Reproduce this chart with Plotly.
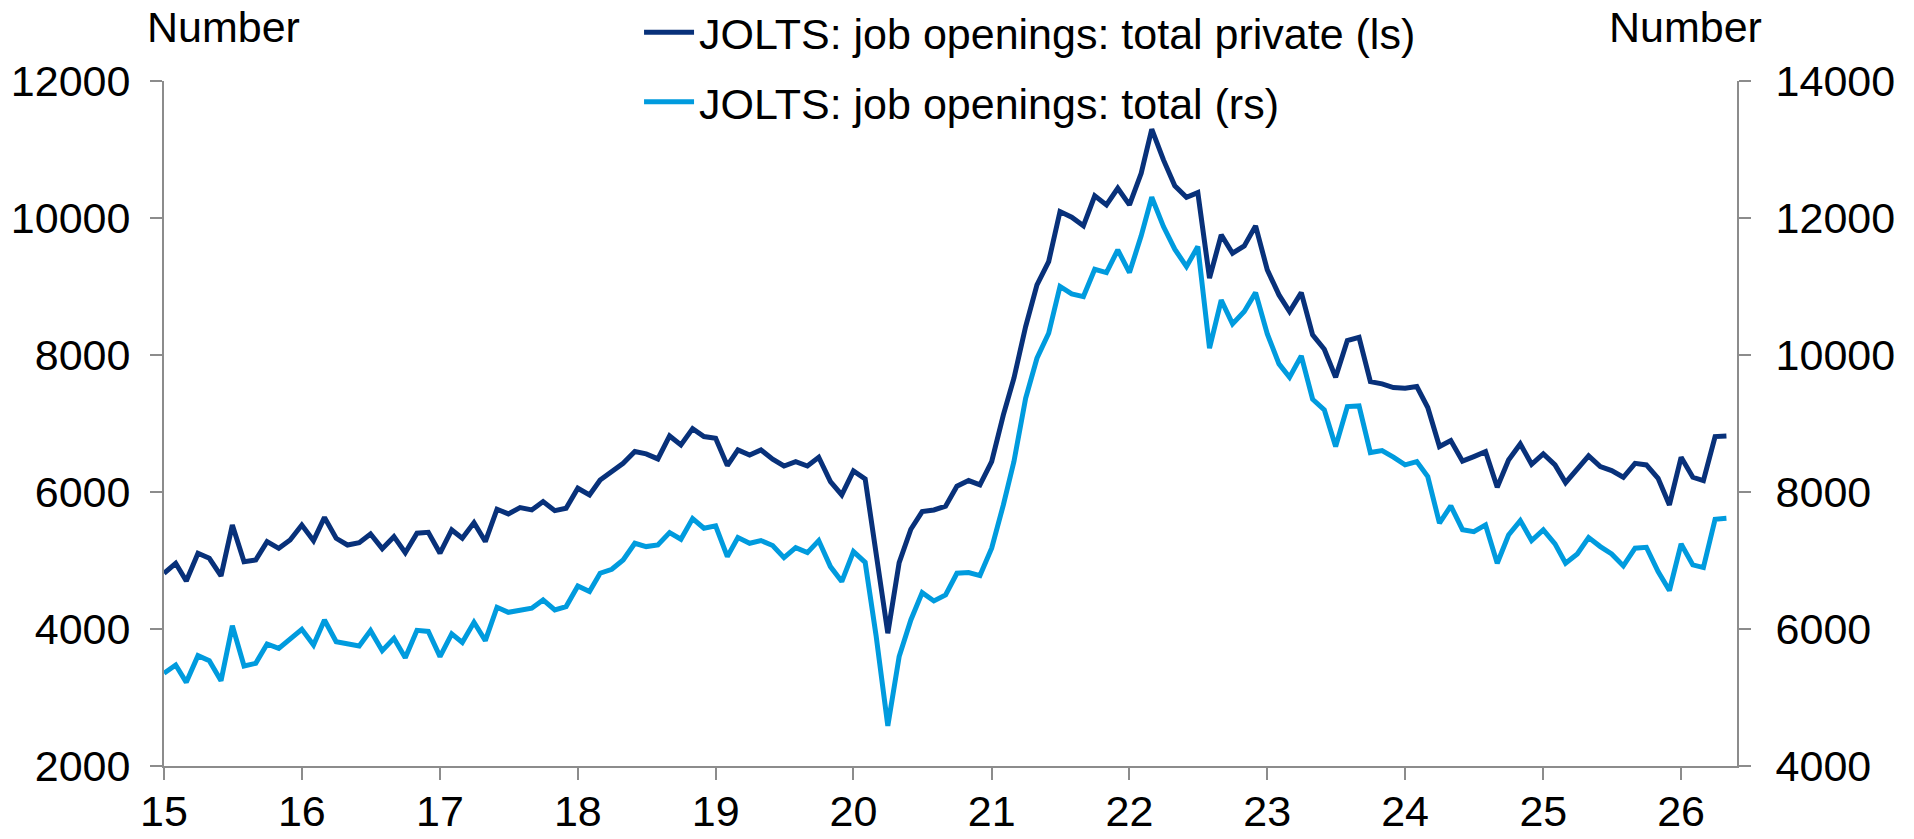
import pandas as pd
import plotly.graph_objects as go

start_month = "2015-01-01"

private_openings = [
    4813, 4959, 4701, 5105, 5032, 4774, 5518, 4983, 5007, 5275, 5178, 5299,
    5518, 5290, 5630, 5324, 5226, 5260, 5387, 5173, 5348, 5114, 5398, 5412,
    5106, 5446, 5325, 5553, 5276, 5748, 5680, 5772, 5738, 5860, 5728, 5763,
    6055, 5957, 6176, 6298, 6419, 6590, 6556, 6483, 6818, 6687, 6925, 6809,
    6784, 6385, 6614, 6541, 6614, 6478, 6380, 6444, 6380, 6507, 6152, 5957,
    6308, 6191, 5150, 3938, 4969, 5456, 5714, 5738, 5792, 6084, 6167, 6104,
    6444, 7126, 7661, 8415, 9023, 9364, 10094, 10011, 9885, 10323, 10191, 10434,
    10191, 10653, 11296, 10848, 10469, 10303, 10371, 9121, 9753, 9486, 9593, 9885,
    9242, 8877, 8634, 8911, 8293, 8084, 7675, 8211, 8259, 7612, 7578, 7525,
    7515, 7539, 7233, 6663, 6751, 6450, 6517, 6590, 6069, 6468, 6702, 6405,
    6556, 6395, 6137, 6322, 6527, 6371, 6312, 6215, 6419, 6395, 6201, 5811,
    6507, 6215, 6166, 6809, 6818,
]

total_openings = [
    5353, 5474, 5221, 5611, 5538, 5246, 6049, 5460, 5499, 5781, 5718, 5864,
    5995, 5766, 6131, 5815, 5781, 5752, 5976, 5684, 5864, 5581, 5980, 5965,
    5597, 5928, 5802, 6098, 5831, 6317, 6244, 6278, 6303, 6424, 6278, 6327,
    6629, 6546, 6814, 6872, 7008, 7252, 7203, 7227, 7407, 7310, 7612, 7471,
    7505, 7057, 7334, 7252, 7291, 7218, 7042, 7188, 7115, 7291, 6911, 6692,
    7130, 6974, 5900, 4585, 5597, 6132, 6531, 6410, 6497, 6814, 6824, 6780,
    7179, 7812, 8444, 9369, 9953, 10318, 11000, 10892, 10853, 11252, 11203, 11534,
    11203, 11739, 12303, 11875, 11544, 11291, 11583, 10099, 10800, 10454, 10634, 10911,
    10308, 9870, 9675, 9987, 9354, 9199, 8663, 9247, 9257, 8576, 8605, 8508,
    8396, 8444, 8225, 7544, 7797, 7450, 7420, 7519, 6960, 7373, 7583, 7291,
    7446, 7242, 6960, 7096, 7334, 7203, 7096, 6921, 7179, 7193, 6838, 6561,
    7242, 6935, 6897, 7602, 7617,
]

months = pd.date_range(start_month, periods=len(private_openings), freq="MS")

name_private = "JOLTS: job openings: total private (ls)"
name_total = "JOLTS: job openings: total (rs)"

DARK = "#08317A"
LIGHT = "#009BDE"
AXIS = "#8C8C8C"
FONT = "Liberation Sans, Arial, sans-serif"
FS = 43

fig = go.Figure()
fig.add_trace(go.Scatter(
    x=months, y=private_openings, name=name_private, mode="lines",
    line=dict(color=DARK, width=5), yaxis="y", legend="legend",
))
fig.add_trace(go.Scatter(
    x=months, y=total_openings, name=name_total, mode="lines",
    line=dict(color=LIGHT, width=5), yaxis="y2", legend="legend2",
))

axis_common = dict(
    showline=True, linecolor=AXIS, linewidth=2,
    ticks="outside", ticklen=12, tickcolor=AXIS, tickwidth=2,
    showgrid=False, zeroline=False, automargin=False,
    tickfont=dict(family=FONT, size=FS, color="black"),
)

fig.update_layout(
    width=1914, height=839,
    margin=dict(l=164, r=177, t=81, b=73, autoexpand=False),
    paper_bgcolor="white", plot_bgcolor="white",
    font=dict(family=FONT, size=FS, color="black"),
    xaxis=dict(
        type="date", range=["2015-01-01", "2026-05-29"],
        tick0="2015-01-01", dtick="M12", tickformat="%y",
        ticklabelstandoff=-6, **axis_common,
    ),
    yaxis=dict(range=[2000, 12000], dtick=2000, tickformat="d",
               ticklabelstandoff=11, **axis_common),
    yaxis2=dict(range=[4000, 14000], dtick=2000, tickformat="d",
                overlaying="y", side="right", ticklabelstandoff=16,
                **axis_common),
    legend=dict(x=0.302, y=1.071, xanchor="left", yanchor="middle",
                bgcolor="rgba(0,0,0,0)", font=dict(family=FONT, size=FS),
                itemwidth=50),
    legend2=dict(x=0.302, y=0.9695, xanchor="left", yanchor="middle",
                 bgcolor="rgba(0,0,0,0)", font=dict(family=FONT, size=FS),
                 itemwidth=50),
    showlegend=True,
)

fig.add_annotation(text="Number", xref="paper", yref="paper",
                   x=-0.0118, y=1.0788, xanchor="left", yanchor="middle",
                   showarrow=False, font=dict(family=FONT, size=FS))
fig.add_annotation(text="Number", xref="paper", yref="paper",
                   x=1.0172, y=1.0788, xanchor="right", yanchor="middle",
                   showarrow=False, font=dict(family=FONT, size=FS))

fig.write_html(
    "out.html",
    config={"displayModeBar": False},
    post_script="document.body.style.margin='0';document.body.style.overflow='hidden';",
)
